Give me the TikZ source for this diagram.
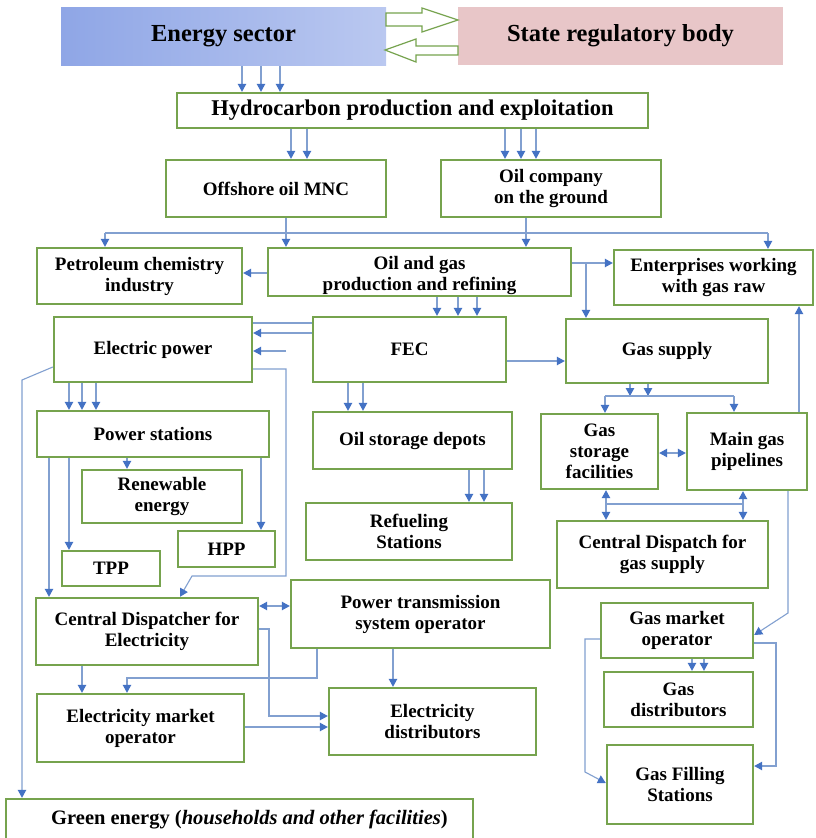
\documentclass[tikz,border=0pt]{standalone}
\usepackage{fontspec}
\setmainfont{Liberation Serif}
\usetikzlibrary{arrows.meta}
\definecolor{boxgreen}{RGB}{118,163,78}
\definecolor{linecol}{RGB}{130,160,208}
\definecolor{arrcol}{RGB}{68,114,196}
\definecolor{esL}{RGB}{143,166,230}
\definecolor{esR}{RGB}{186,200,240}
\definecolor{srpink}{RGB}{232,198,200}
\newcommand\mybox[7][]{%
  \pgfmathsetmacro\bxcx{(#3+#5)/2}%
  \pgfmathsetmacro\bxcy{(#4+#6)/2}%
  \pgfmathsetmacro\bxw{#5-#3}%
  \pgfmathsetmacro\bxh{#6-#4}%
  \node[box,minimum width=\bxw pt,minimum height=\bxh pt,#1] (#2) at (\bxcx,\bxcy) {#7};}
\begin{document}
\begin{tikzpicture}[x=1pt,y=-1pt,
  box/.style={draw=boxgreen, line width=2.4pt, fill=white, inner sep=1pt, align=center,
    font=\bfseries\fontsize{19}{21}\selectfont},
  conn/.style={draw=linecol, line width=1.1pt},
  arr/.style={conn, -{Triangle[length=8pt,width=8.5pt,color=arrcol]}},
  darr/.style={conn, {Triangle[length=8pt,width=8.5pt,color=arrcol]}-{Triangle[length=8pt,width=8.5pt,color=arrcol]}},
  hollow/.style={draw=boxgreen, line width=1.2pt, fill=white}]
\useasboundingbox (0,0) rectangle (815,838);
\fill[white] (0,0) rectangle (815,838);

% header
\mybox[draw=none, left color=esL, right color=esR, font=\bfseries\fontsize{24.5}{26}\selectfont]{es}{61}{7}{386}{65}{Energy sector}
\mybox[draw=none, fill=srpink, font=\bfseries\fontsize{24.5}{26}\selectfont]{sr}{458}{7}{783}{65}{State regulatory body}
\draw[hollow] (386,13) -- (422,13) -- (422,8) -- (458,20) -- (422,32) -- (422,26) -- (386,26) -- cycle;
\draw[hollow] (458,46) -- (416,46) -- (416,39) -- (385,50) -- (416,62) -- (416,55) -- (458,55) -- cycle;

% boxes
\mybox[font=\bfseries\fontsize{22.5}{24}\selectfont]{hc}{177}{93}{648}{128}{Hydrocarbon production and exploitation}
\mybox{off}{166}{160}{386}{217}{Offshore oil MNC}
\mybox{oc}{441}{160}{661}{217}{Oil company\\on the ground}
\mybox{pc}{37}{248}{242}{304}{Petroleum chemistry\\industry}
\mybox{og}{268}{248}{571}{296}{\raisebox{-4pt}[\height][\depth]{\begin{tabular}{@{}c@{}}Oil and gas\\production and refining\end{tabular}}}
\mybox{ent}{614}{250}{813}{305}{Enterprises working\\with gas raw}
\mybox{ep}{54}{317}{252}{382}{Electric power}
\mybox{fec}{313}{317}{506}{382}{FEC}
\mybox{gs}{566}{319}{768}{383}{Gas supply}
\mybox{ps}{37}{411}{269}{457}{Power stations}
\mybox{osd}{313}{412}{512}{469}{Oil storage depots}
\mybox{gsf}{541}{414}{658}{489}{Gas\\storage\\facilities}
\mybox{mgp}{687}{413}{807}{490}{Main gas\\pipelines}
\mybox{ren}{82}{470}{242}{523}{Renewable\\energy}
\mybox{rs}{306}{503}{512}{560}{Refueling\\Stations}
\mybox{hpp}{178}{531}{275}{567}{HPP}
\mybox{tpp}{62}{551}{160}{586}{TPP}
\mybox{cdg}{557}{521}{768}{588}{Central Dispatch for\\gas supply}
\mybox{cde}{36}{598}{258}{665}{Central Dispatcher for\\Electricity}
\mybox{ptso}{291}{580}{550}{648}{Power transmission\\system operator}
\mybox{gmo}{601}{603}{753}{658}{Gas market\\operator}
\mybox{emo}{37}{694}{244}{762}{Electricity market\\operator}
\mybox{ed}{329}{688}{536}{755}{Electricity\\distributors}
\mybox{gd}{604}{672}{753}{727}{Gas\\distributors}
\mybox{gfs}{607}{745}{753}{824}{Gas Filling\\Stations}
\mybox[font=\bfseries\fontsize{20.5}{22}\selectfont]{ge}{6}{799}{473}{841}{\hspace*{20pt}Green energy (\textit{households and other facilities})}

% helper coordinates
\coordinate (busL) at (105,233);
\coordinate (busR) at (768,233);
\coordinate (brG) at (586,263);
\coordinate (epShort) at (286,351);
\coordinate (gsBus) at (605,396);
\coordinate (gsBusR) at (734,396);
\coordinate (dBusL) at (606,504);
\coordinate (dBusR) at (743,504);

% connectors
\foreach \x in {242,261,280} \draw[arr] (es.south -| \x,0) -- (hc.north -| \x,0);
\foreach \x in {291,307} \draw[arr] (hc.south -| \x,0) -- (off.north -| \x,0);
\foreach \x in {505,521,536} \draw[arr] (hc.south -| \x,0) -- (oc.north -| \x,0);

\draw[conn] (busL) -- (busR);
\draw[arr] (busL) -- (pc.north -| busL);
\draw[arr] (busR) -- (ent.north -| busR);
\draw[arr] (off.south -| 286,0) -- (og.north -| 286,0);
\draw[arr] (oc.south -| 526,0) -- (og.north -| 526,0);

\draw[arr] (og.west |- 0,273) -- (pc.east |- 0,273);
\draw[arr] (og.east |- 0,263) -- (ent.west |- 0,263);
\draw[arr] (brG) -- (gs.north -| brG);
\foreach \x in {437,458,477} \draw[arr] (og.south -| \x,0) -- (fec.north -| \x,0);

\draw[conn] (fec.west |- 0,323) -- (ep.east |- 0,323);
\draw[arr] (fec.west |- 0,333) -- (ep.east |- 0,333);
\draw[arr] (epShort) -- (ep.east |- epShort);
\draw[arr] (ep.east |- 0,369) -- (286,369) -- (286,576) -- (192,576) -- (cde.north -| 180,0);
\draw[arr] (ep.west |- 0,367) -- (22,380) -- (ge.north -| 22,0);
\foreach \x in {69,82,96} \draw[arr] (ep.south -| \x,0) -- (ps.north -| \x,0);
\draw[arr] (fec.east |- 0,361) -- (gs.west |- 0,361);

\foreach \x in {630,648} \draw[arr] (gs.south -| \x,0) -- (\x,396);
\draw[conn] (gsBus) -- (gsBusR);
\draw[arr] (gsBus) -- (gsf.north -| gsBus);
\draw[arr] (gsBusR) -- (mgp.north -| gsBusR);
\draw[darr] (gsf.east |- 0,453) -- (mgp.west |- 0,453);
\draw[darr] (gsf.south -| dBusL) -- (cdg.north -| dBusL);
\draw[darr] (mgp.south -| dBusR) -- (cdg.north -| dBusR);
\draw[conn] (dBusL) -- (dBusR);
\draw[arr] (mgp.north -| 799,0) -- (ent.south -| 799,0);
\draw[arr] (mgp.south -| 788,0) -- (788,613) -- (gmo.east |- 0,635);
\foreach \x in {692,704} \draw[arr] (gmo.south -| \x,0) -- (gd.north -| \x,0);
\draw[arr] (gmo.west |- 0,639) -- (585,639) -- (585,772) -- (gfs.west |- 0,783);
\draw[arr] (gmo.east |- 0,643) -- (776,643) -- (776,766) -- (gfs.east |- 0,766);

\draw[arr] (ps.south -| 127,0) -- (ren.north -| 127,0);
\draw[arr] (ps.south -| 261,0) -- (hpp.north -| 261,0);
\draw[arr] (ps.south -| 69,0) -- (tpp.north -| 69,0);
\draw[arr] (ps.south -| 49,0) -- (cde.north -| 49,0);

\foreach \x in {348,363} \draw[arr] (fec.south -| \x,0) -- (osd.north -| \x,0);
\foreach \x in {469,484} \draw[arr] (osd.south -| \x,0) -- (rs.north -| \x,0);

\draw[darr] (cde.east |- 0,606) -- (ptso.west |- 0,606);
\draw[arr] (ptso.south -| 393,0) -- (ed.north -| 393,0);
\draw[arr] (ptso.south -| 317,0) -- (317,678) -- (127,678) -- (emo.north -| 127,0);
\draw[arr] (cde.south -| 82,0) -- (emo.north -| 82,0);
\draw[arr] (cde.east |- 0,629) -- (269,629) -- (269,716) -- (ed.west |- 0,716);
\draw[arr] (emo.east |- 0,727) -- (ed.west |- 0,727);
\end{tikzpicture}
\end{document}
